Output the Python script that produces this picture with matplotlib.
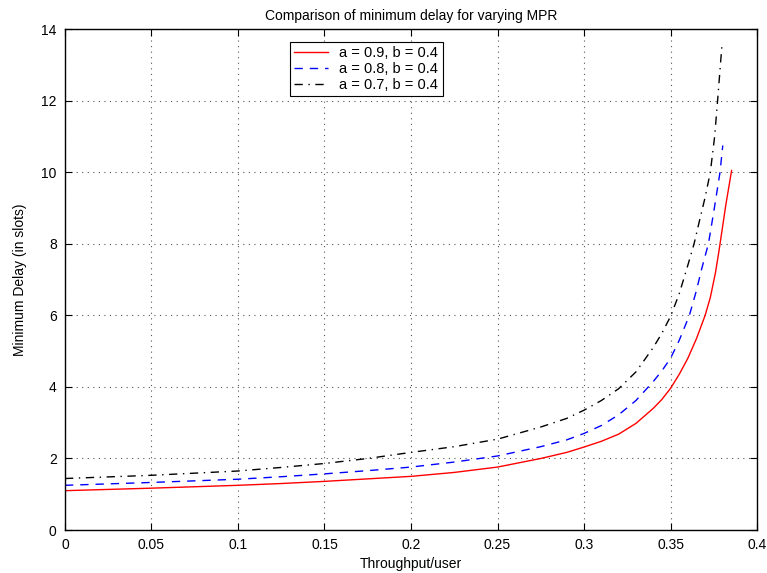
import numpy as np
import matplotlib
matplotlib.use('Agg')
from matplotlib import pyplot as plt

x_a09 = [0, 0.05, 0.1, 0.125, 0.15, 0.175, 0.2, 0.225, 0.25, 0.275, 0.29, 0.3, 0.31, 0.32,
         0.33, 0.34, 0.345, 0.35, 0.355, 0.36, 0.365, 0.37, 0.373, 0.376, 0.378, 0.38,
         0.382, 0.3853]
y_a09 = [1.10, 1.17, 1.25, 1.30, 1.36, 1.43, 1.50, 1.61, 1.76, 2.00, 2.17, 2.32, 2.48, 2.68,
         2.98, 3.40, 3.65, 3.96, 4.35, 4.80, 5.35, 6.00, 6.50, 7.20, 7.80, 8.45,
         9.1, 10.05]

x_a08 = [0, 0.05, 0.1, 0.125, 0.15, 0.175, 0.2, 0.225, 0.25, 0.275, 0.29, 0.3, 0.31, 0.32,
         0.33, 0.34, 0.345, 0.35, 0.355, 0.3609, 0.365, 0.368, 0.3719, 0.375, 0.3786,
         0.3802]
y_a08 = [1.25, 1.33, 1.42, 1.49, 1.57, 1.66, 1.76, 1.90, 2.07, 2.33, 2.52, 2.70, 2.92, 3.22,
         3.62, 4.15, 4.45, 4.80, 5.30, 6.00, 6.70, 7.30, 8.00, 8.90, 10.0,
         10.75]

x_a07 = [0, 0.05, 0.1, 0.125, 0.15, 0.175, 0.2, 0.225, 0.25, 0.275, 0.29, 0.3, 0.31, 0.32,
         0.33, 0.34, 0.345, 0.35, 0.355, 0.36, 0.3636, 0.367, 0.37, 0.373, 0.3755, 0.3772,
         0.3798]
y_a07 = [1.44, 1.53, 1.65, 1.75, 1.86, 2.00, 2.17, 2.33, 2.54, 2.88, 3.12, 3.35, 3.62, 3.95,
         4.42, 5.10, 5.50, 5.97, 6.60, 7.40, 8.00, 8.70, 9.30, 10.0, 11.0, 12.0,
         13.6]

labels = ['a = 0.9, b = 0.4', 'a = 0.8, b = 0.4', 'a = 0.7, b = 0.4']
xticks = np.arange(0, 0.41, 0.05)
xticklabels = ['0', '0.05', '0.1', '0.15', '0.2', '0.25', '0.3', '0.35', '0.4']
yticks = np.arange(0, 15, 2)

plt.rcParams['font.family'] = ['Liberation Sans', 'DejaVu Sans']
plt.rcParams['font.size'] = 10

fig = plt.figure(figsize=(7.67, 5.73), dpi=100)
ax = fig.add_axes([0.0847, 0.075, 0.9023, 0.874])

ax.plot(x_a09, y_a09, color='red', lw=1.0, ls='-', label=labels[0])
ax.plot(x_a08, y_a08, color='blue', lw=1.0, ls=(0, (6, 5)), label=labels[1])
ax.plot(x_a07, y_a07, color='black', lw=1.0, ls=(0, (6, 4, 1, 4)), label=labels[2])

ax.set_xlim(0, 0.4)
ax.set_ylim(0, 14)
ax.set_xticks(xticks)
ax.set_xticklabels(xticklabels)
ax.set_yticks(yticks)
ax.tick_params(direction='in', top=True, right=True, length=5, width=0.8, pad=6)
ax.grid(True, color='#555555', ls=(0, (1, 4)), lw=0.8)
for s in ax.spines.values():
    s.set_linewidth(1.0)

ax.set_title('Comparison of minimum delay for varying MPR', fontsize=10, pad=7)
ax.set_xlabel('Throughput/user', labelpad=3)
ax.set_ylabel('Minimum Delay (in slots)', labelpad=10)

leg = ax.legend(loc='upper left', bbox_to_anchor=(0.325, 0.975), fancybox=False,
                framealpha=1, edgecolor='black', borderpad=0.3, labelspacing=0.12,
                handlelength=2.3, handletextpad=0.8, borderaxespad=0, fontsize=10.5)
leg.get_frame().set_linewidth(0.8)

fig.savefig('out.png', dpi=100)
